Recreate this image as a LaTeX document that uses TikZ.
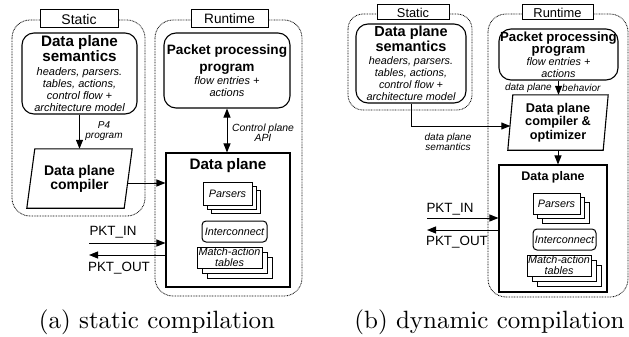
\documentclass[tikz,border=0pt]{standalone}
\usepackage{fontspec}
\newfontfamily\lsans{Liberation Sans}
\usetikzlibrary{arrows.meta,shadows}
\newcommand\BF[1]{\lsans\bfseries\fontsize{#1}{#1}\selectfont}
\newcommand\IT[1]{\lsans\itshape\fontsize{#1}{#1}\selectfont}
\newcommand\RM[1]{\lsans\fontsize{#1}{#1}\selectfont}
\begin{document}
\begin{tikzpicture}[x=1pt,y=-1pt,
  dotbox/.style={draw, line width=0.8pt, dash pattern=on 0.8pt off 0.8pt, rounded corners=18pt},
  labbox/.style={draw, fill=white, line width=1pt, inner sep=0pt},
  rbox/.style={draw, rounded corners=12pt, line width=1.1pt, inner sep=1pt, align=center, font=\lsans\fontsize{11}{12}\selectfont},
  plainbox/.style={draw, line width=1.1pt, inner sep=0pt},
  stackbox/.style={draw, fill=white, line width=1pt, inner sep=0pt, align=center, font=\IT{10.8}},
  arr/.style={-{Triangle[length=9pt,width=7pt]}, line width=1pt},
  darr/.style={{Triangle[length=9pt,width=7pt]}-{Triangle[length=9pt,width=7pt]}, line width=1pt},
  lab/.style={inner sep=0pt, align=center}]
\useasboundingbox (0,0) rectangle (629,337);

% ---------------- panel (a) ----------------
\draw[dotbox] (12,20) rectangle (145,216);
\draw[dotbox] (155,20) rectangle (302,296);
\node[labbox, minimum width=78pt, minimum height=18pt, font=\RM{14}] (stA) at (79,19) {Static};
\node[labbox, minimum width=77pt, minimum height=18pt, font=\RM{13.6}] (rtA) at (229.5,19) {Runtime};

\node[rbox, minimum width=115pt, minimum height=81pt] (semA) at (79.5,73.5)
  {{\BF{15.2}Data plane}\\{\BF{15.2}semantics}\\[2pt]{\IT{11}headers, parsers.}\\{\IT{11}tables, actions,}\\{\IT{11}control flow +}\\{\IT{11}architecture model}};

\node[minimum width=97pt, minimum height=59pt, inner sep=0pt, align=center] (compA) at (79.5,178.5)
  {{\BF{14}Data plane}\\{\BF{14}compiler}};
\draw[line width=1.1pt] ([xshift=4pt]compA.north west) -- ([xshift=4pt]compA.north east)
  -- ([xshift=-4pt]compA.south east) -- ([xshift=-4pt]compA.south west) -- cycle;
\draw[arr] (semA.south) -- (compA.north);
\node[lab, font=\IT{10}] (p4lab) at (104,131) {P4\\program};

\node[rbox, minimum width=126pt, minimum height=75pt] (ppA) at (227,70.5)
  {{\BF{13.6}Packet processing}\\[5pt]{\BF{13.6}program}\\[1pt]{\IT{11}flow entries +}\\[0.5pt]{\IT{11}actions}};

\node[plainbox, minimum width=124pt, minimum height=134pt] (dpA) at (228,220) {};
\node[lab, font=\BF{15.2}] (dpAt) at (228,166) {Data plane};
\node[stackbox, double copy shadow={shadow xshift=4pt, shadow yshift=-4pt}, minimum width=49pt, minimum height=23pt] (parA) at (227.5,193.5) {Parsers};
\node[stackbox, rounded corners=4pt, minimum width=65pt, minimum height=21pt] (icA) at (234.5,231.5) {Interconnect};
\node[stackbox, double copy shadow={shadow xshift=5pt, shadow yshift=-5pt}, minimum width=65pt, minimum height=21pt] (maA) at (229.5,257.5) {Match-action\\tables};

\draw[arr] ([yshift=-4.5pt]compA.east) -- ([yshift=-4.5pt]compA.east -| dpA.west);
\draw[darr] (ppA.south) -- (ppA.south |- dpA.north);
\node[lab, font=\IT{10.4}] (cpl) at (263,133) {Control plane\\API};

\coordinate (inA) at (89,243);
\coordinate (outA) at (89,255);
\draw[arr] (inA) -- (inA -| dpA.west);
\draw[arr] (outA -| dpA.west) -- (outA);
\node[lab, font=\RM{13.4}] (pinA) at (113,232) {PKT\_IN};
\node[lab, font=\RM{13.4}] (poutA) at (119,268) {PKT\_OUT};

\node[anchor=base, scale=2.5, inner sep=0pt] (capA) at (157,328) {(a) static compilation};

% ---------------- panel (b) ----------------
\draw[dotbox, rounded corners=15pt] (348,14) rectangle (472,110);
\draw[dotbox] (488,14) rectangle (628,297);
\node[labbox, minimum width=72pt, minimum height=15pt, font=\RM{12.8}] (stB) at (413,12.5) {Static};
\node[labbox, minimum width=71pt, minimum height=15pt, font=\RM{12.9}] (rtB) at (557.5,12.5) {Runtime};

\node[rbox, minimum width=110pt, minimum height=79pt] (semB) at (411,63.5)
  {{\BF{14.5}Data plane}\\{\BF{14.5}semantics}\\[1pt]{\IT{10.8}headers, parsers.}\\{\IT{10.8}tables, actions,}\\{\IT{10.8}control flow +}\\{\IT{10.8}architecture model}};

\node[rbox, minimum width=119pt, minimum height=51pt, inner sep=0pt] (ppB) at (558.5,54.5)
  {{\BF{13.2}Packet processing}\\{\BF{13.2}program}\\{\IT{10.8}flow entries +}\\{\IT{10.8}actions}};

\node[minimum width=95pt, minimum height=55pt, inner sep=0pt, align=center] (compB) at (558,122.5)
  {{\BF{12.7}Data plane}\\[1.5pt]{\BF{12.7}compiler \&}\\[1.5pt]{\BF{12.7}optimizer}};
\draw[line width=1.1pt] ([xshift=2.5pt]compB.north west) -- ([xshift=2.5pt]compB.north east)
  -- ([xshift=-2.5pt]compB.south east) -- ([xshift=-2.5pt]compB.south west) -- cycle;
\draw[arr] (ppB.south) -- (ppB.south |- compB.north);
\node[lab, font=\IT{10}, anchor=east] (dpbl) at (552,88) {data plane};
\node[lab, font=\IT{10}, anchor=west] (behl) at (562,88) {behavior};

\node[plainbox, minimum width=108pt, minimum height=127pt] (dpB) at (553,228.5) {};
\node[lab, font=\BF{12.5}] (dpBt) at (553,177) {Data plane};
\node[stackbox, double copy shadow={shadow xshift=4.5pt, shadow yshift=-4.5pt}, minimum width=47pt, minimum height=21pt] (parB) at (556.5,203.5) {Parsers};
\node[stackbox, rounded corners=4pt, minimum width=63pt, minimum height=21pt] (icB) at (564.5,239.5) {Interconnect};
\node[stackbox, double copy shadow={shadow xshift=5pt, shadow yshift=-5pt}, minimum width=64pt, minimum height=21pt] (maB) at (559,265.5) {Match-action\\tables};

\draw[arr] (compB.south) -- (compB.south |- dpB.north);
\draw[arr] (semB.south) |- ([yshift=-3.5pt]compB.west);
\node[lab, font=\IT{10}] (dpsl) at (448,142) {data plane\\semantics};

\coordinate (inB) at (427,218);
\coordinate (outB) at (427,230);
\draw[arr] (inB) -- (inB -| dpB.west);
\draw[arr] (outB -| dpB.west) -- (outB);
\node[lab, font=\RM{13.4}] (pinB) at (450,209) {PKT\_IN};
\node[lab, font=\RM{13.4}] (poutB) at (457,242) {PKT\_OUT};

\node[anchor=base, scale=2.5, inner sep=0pt] (capB) at (489.5,328) {(b) dynamic compilation};
\end{tikzpicture}
\end{document}
